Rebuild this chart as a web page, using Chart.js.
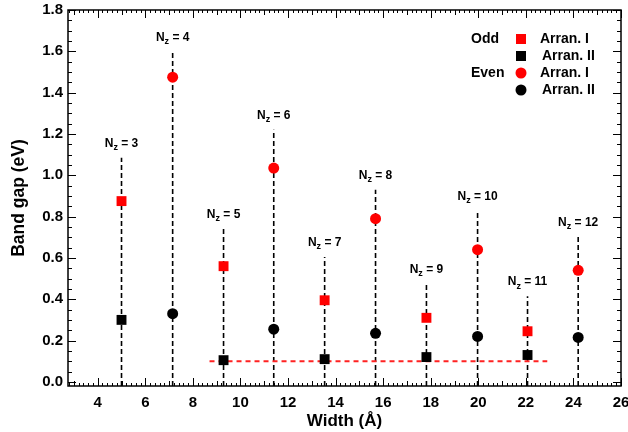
<!DOCTYPE html>
<html>
<head>
<meta charset="utf-8">
<script src="https://cdn.jsdelivr.net/npm/chart.js@4.4.0/dist/chart.umd.min.js"></script>
<style>
  html, body { margin: 0; padding: 0; background: #fff; }
  #wrap { width: 628px; height: 432px; }
</style>
</head>
<body>
<div id="wrap"><canvas id="chart" width="628" height="432"></canvas></div>
<script>
const FONT = "'Liberation Sans', Arial, sans-serif";
const RED = '#ff0000';

// axis ticks
const X_TICKS = [4, 6, 8, 10, 12, 14, 16, 18, 20, 22, 24, 26];
const Y_TICKS = [0, 0.2, 0.4, 0.6, 0.8, 1.0, 1.2, 1.4, 1.6, 1.8];
const X_MIN = 2.75, X_MAX = 26;
const Y_MIN = -0.02, Y_MAX = 1.8;

// odd Nz
const ODD_WIDTH = [5.0, 9.29, 13.54, 17.82, 22.07];
const ODD_ARRAN_I = [0.875, 0.56, 0.395, 0.31, 0.245];
const ODD_ARRAN_II = [0.30, 0.105, 0.11, 0.12, 0.13];

// even Nz
const EVEN_WIDTH = [7.15, 11.4, 15.68, 19.97, 24.2];
const EVEN_ARRAN_I = [1.475, 1.035, 0.79, 0.64, 0.54];
const EVEN_ARRAN_II = [0.33, 0.255, 0.235, 0.22, 0.215];

// dashed drop lines + labels
const NZ = [3, 4, 5, 6, 7, 8, 9, 10, 11, 12];
const NZ_WIDTH = [5.0, 7.15, 9.29, 11.4, 13.54, 15.68, 17.82, 19.97, 22.07, 24.2];
const NZ_LINE_TOP = [1.085, 1.6, 0.74, 1.22, 0.605, 0.93, 0.475, 0.83, 0.415, 0.705];

// red reference line
const REF_X = [8.7, 22.9];
const REF_Y = 0.1;

const pts = (xs, ys) => xs.map((x, i) => ({ x: x, y: ys[i] }));

const dropLines = NZ.map((n, i) => ({
    type: 'line',
    label: 'Nz' + n,
    data: [{ x: NZ_WIDTH[i], y: Y_MIN }, { x: NZ_WIDTH[i], y: NZ_LINE_TOP[i] }],
    borderColor: '#000',
    borderWidth: 1.6,
    borderDash: [5, 3],
    pointRadius: 0,
    order: 10
}));

const frame = {
    id: 'frame',
    beforeDatasetsDraw(chart) {
        const { ctx, chartArea: a, scales: { x, y } } = chart;
        ctx.save();
        ctx.strokeStyle = '#000';
        ctx.lineWidth = 1.5;
        ctx.strokeRect(a.left, a.top, a.right - a.left, a.bottom - a.top);
        ctx.lineWidth = 1;
        ctx.beginPath();
        // x ticks, every 0.2, mid at odd, long at even
        for (let k = Math.ceil(X_MIN / 0.2); k <= Math.floor(X_MAX / 0.2 + 1e-6); k++) {
            const px = Math.round(x.getPixelForValue(k * 0.2)) + 0.5;
            const len = k % 10 === 0 ? 8 : (k % 5 === 0 ? 5 : 3);
            ctx.moveTo(px, a.bottom); ctx.lineTo(px, a.bottom - len);
            ctx.moveTo(px, a.top); ctx.lineTo(px, a.top + len);
        }
        // y ticks, every 0.05
        for (let k = 0; k <= 36; k++) {
            const py = Math.round(y.getPixelForValue(k * 0.05)) + 0.5;
            const len = k % 4 === 0 ? 8 : 4;
            ctx.moveTo(a.left, py); ctx.lineTo(a.left + len, py);
            ctx.moveTo(a.right, py); ctx.lineTo(a.right - len, py);
        }
        ctx.stroke();
        ctx.restore();
    },
    afterDraw(chart) {
        const { ctx, scales: { x, y } } = chart;
        ctx.save();
        ctx.fillStyle = '#000';
        ctx.textBaseline = 'middle';
        ctx.textAlign = 'left';
        // Nz labels
        NZ.forEach((n, i) => {
            const px = x.getPixelForValue(NZ_WIDTH[i]);
            const py = y.getPixelForValue(NZ_LINE_TOP[i]) - 14;
            const big = 'bold 12px ' + FONT, small = 'bold 9px ' + FONT;
            const rest = ' = ' + n;
            ctx.font = big;
            const wN = ctx.measureText('N').width, wR = ctx.measureText(rest).width;
            ctx.font = small;
            const wz = ctx.measureText('z').width;
            let sx = px - (wN + wz + wR) / 2;
            ctx.font = big; ctx.fillText('N', sx, py);
            ctx.font = small; ctx.fillText('z', sx + wN, py + 4);
            ctx.font = big; ctx.fillText(rest, sx + wN + wz, py);
        });
        // legend
        const rows = [
            { group: 'Odd', shape: 'rect', color: RED, text: 'Arran. I', y: 39 },
            { group: '', shape: 'rect', color: '#000', text: 'Arran. II', y: 56 },
            { group: 'Even', shape: 'circle', color: RED, text: 'Arran. I', y: 73 },
            { group: '', shape: 'circle', color: '#000', text: 'Arran. II', y: 90 }
        ];
        ctx.font = 'bold 14px ' + FONT;
        rows.forEach(r => {
            if (r.group) ctx.fillText(r.group, 471, r.y);
            ctx.fillStyle = r.color;
            if (r.shape === 'rect') {
                ctx.fillRect(516, r.y - 5, 10, 10);
            } else {
                ctx.beginPath(); ctx.arc(521, r.y, 5.5, 0, Math.PI * 2); ctx.fill();
            }
            ctx.fillStyle = '#000';
            ctx.fillText(r.text, r.group ? 540 : 542, r.y);
        });
        ctx.restore();
    }
};

new Chart(document.getElementById('chart'), {
    type: 'scatter',
    data: {
        datasets: [
            { label: 'Odd Arran. I', data: pts(ODD_WIDTH, ODD_ARRAN_I), pointStyle: 'rect', pointRadius: 7,
              backgroundColor: RED, borderColor: RED, borderWidth: 0, order: 1 },
            { label: 'Odd Arran. II', data: pts(ODD_WIDTH, ODD_ARRAN_II), pointStyle: 'rect', pointRadius: 7,
              backgroundColor: '#000', borderColor: '#000', borderWidth: 0, order: 1 },
            { label: 'Even Arran. I', data: pts(EVEN_WIDTH, EVEN_ARRAN_I), pointStyle: 'circle', pointRadius: 5.5,
              backgroundColor: RED, borderColor: RED, borderWidth: 0, order: 1 },
            { label: 'Even Arran. II', data: pts(EVEN_WIDTH, EVEN_ARRAN_II), pointStyle: 'circle', pointRadius: 5.5,
              backgroundColor: '#000', borderColor: '#000', borderWidth: 0, order: 1 },
            { type: 'line', label: 'ref', data: [{ x: REF_X[0], y: REF_Y }, { x: REF_X[1], y: REF_Y }],
              borderColor: '#f22', borderWidth: 2, borderDash: [5, 4], pointRadius: 0, order: 5 },
            ...dropLines
        ]
    },
    options: {
        responsive: false,
        animation: false,
        events: [],
        layout: { padding: { top: 10, right: 6, left: 0, bottom: 0 } },
        plugins: { legend: { display: false }, tooltip: { enabled: false } },
        scales: {
            x: {
                type: 'linear', min: X_MIN, max: X_MAX,
                afterBuildTicks: s => { s.ticks = X_TICKS.map(v => ({ value: v })); },
                afterFit: s => { s.height = 46; s.paddingLeft = 0; s.paddingRight = 0; },
                grid: { display: false, drawTicks: false },
                border: { display: false },
                ticks: { color: '#000', font: { family: FONT, size: 15, weight: 'bold' }, padding: 8,
                         maxRotation: 0, autoSkip: false },
                title: { display: true, text: 'Width (Å)', color: '#000',
                         font: { family: FONT, size: 17, weight: 'bold' }, padding: { top: 0, bottom: 0 } }
            },
            y: {
                type: 'linear', min: Y_MIN, max: Y_MAX,
                afterBuildTicks: s => { s.ticks = Y_TICKS.map(v => ({ value: v })); },
                afterFit: s => { s.width = 68; s.paddingTop = 0; s.paddingBottom = 0; },
                grid: { display: false, drawTicks: false },
                border: { display: false },
                ticks: { color: '#000', font: { family: FONT, size: 15, weight: 'bold' }, padding: 5,
                         callback: v => v.toFixed(1) },
                title: { display: true, text: 'Band gap (eV)', color: '#000',
                         font: { family: FONT, size: 17.5, weight: 'bold' }, padding: { top: 9, bottom: 0 } }
            }
        }
    },
    plugins: [frame]
});
</script>
</body>
</html>
